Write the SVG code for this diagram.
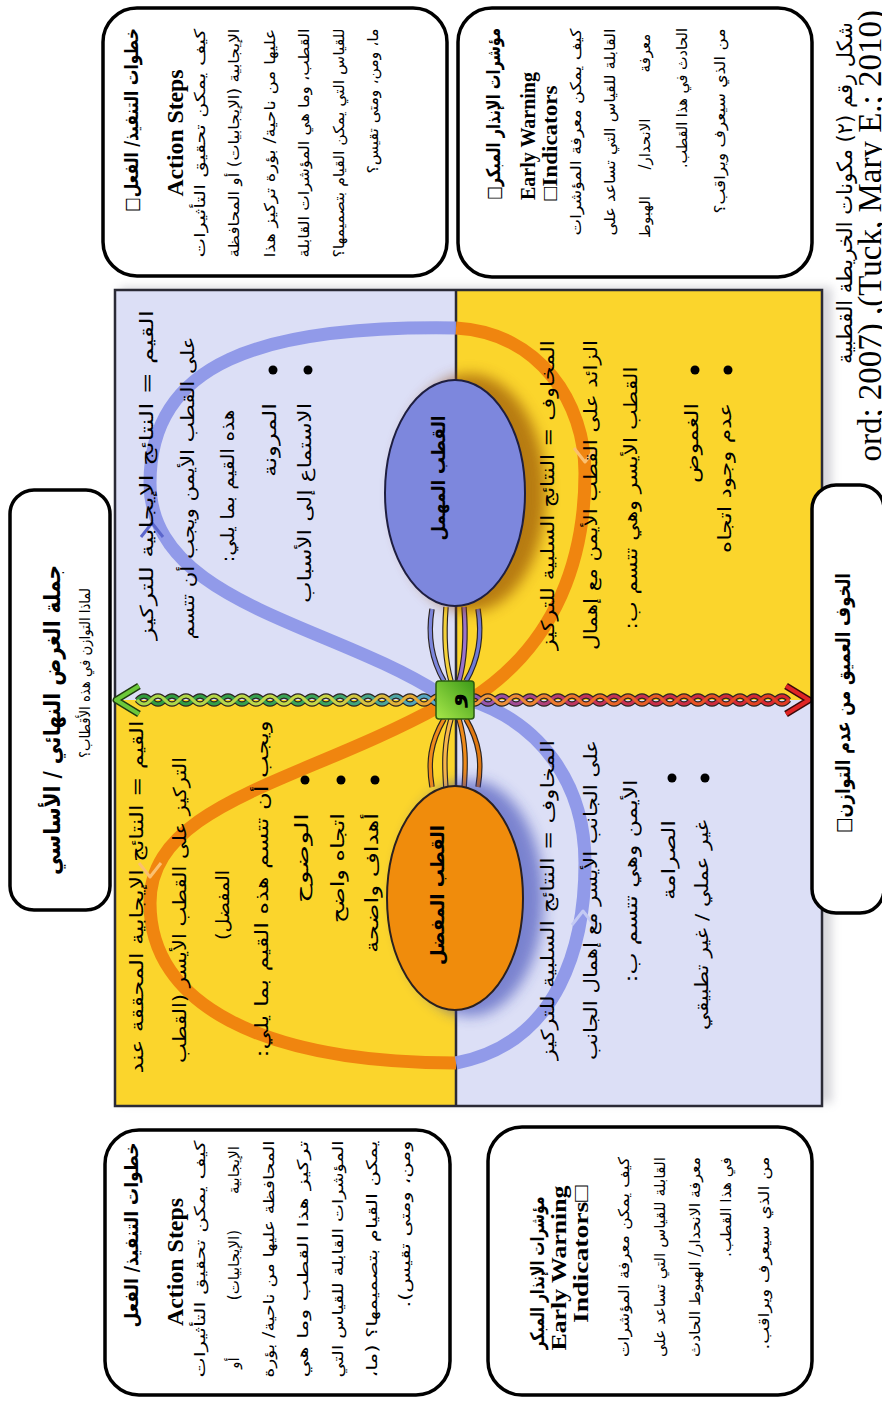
<svg xmlns="http://www.w3.org/2000/svg" width="882" height="1403" viewBox="0 0 882 1403">
<defs>
<style>
.ar{font-family:"DejaVu Sans","Noto Sans",sans-serif;fill:#000;direction:rtl}
.q{font-size:18px}
.bd{font-size:15px}
.h{font-weight:bold}
.en{font-family:"Liberation Serif","Times New Roman",serif;font-weight:bold;fill:#000}
.box{fill:#fff;stroke:#000;stroke-width:3.5}
.band{fill:none;stroke-width:13;stroke-linecap:butt}
.chev{fill:none;stroke-width:3;stroke-linejoin:round}
.dot{fill:#000}
.out{fill:none;stroke:#2b2420;stroke-width:5.5}
.str{fill:none;stroke-width:3.2}
</style>
<filter id="blur" x="-30%" y="-30%" width="160%" height="160%"><feGaussianBlur stdDeviation="7"/></filter>
<filter id="soft" x="-10%" y="-10%" width="120%" height="120%"><feGaussianBlur stdDeviation="5"/></filter>
<linearGradient id="gT1" gradientUnits="userSpaceOnUse" x1="0" y1="137" x2="0" y2="445"><stop offset="0" stop-color="#2f9a3a"/><stop offset="0.6" stop-color="#3aa45a"/><stop offset="1" stop-color="#5aa6d6"/></linearGradient>
<linearGradient id="gT2" gradientUnits="userSpaceOnUse" x1="0" y1="137" x2="0" y2="445"><stop offset="0" stop-color="#a8d84a"/><stop offset="0.6" stop-color="#c8d848"/><stop offset="1" stop-color="#f09a30"/></linearGradient>
<linearGradient id="gB1" gradientUnits="userSpaceOnUse" x1="0" y1="467" x2="0" y2="789"><stop offset="0" stop-color="#8b5cc0"/><stop offset="0.35" stop-color="#c2345a"/><stop offset="1" stop-color="#d8262a"/></linearGradient>
<linearGradient id="gB2" gradientUnits="userSpaceOnUse" x1="0" y1="467" x2="0" y2="789"><stop offset="0" stop-color="#f0a040"/><stop offset="0.4" stop-color="#ec6a28"/><stop offset="1" stop-color="#e23a22"/></linearGradient>
<linearGradient id="gSq" x1="0" y1="0" x2="1" y2="1"><stop offset="0" stop-color="#a8e84a"/><stop offset="1" stop-color="#3c9a18"/></linearGradient>
</defs>
<rect width="882" height="1403" fill="#fff"/>
<g transform="translate(0,1403) rotate(-90)">

<rect x="300" y="120" width="816" height="712" fill="#8a8a98" opacity="0.35" filter="url(#soft)"/>

<g id="quadrants">
<rect x="297" y="115" width="406" height="340" fill="#fbd52c"/>
<rect x="703" y="115" width="410" height="340" fill="#dcdff6"/>
<rect x="297" y="455" width="406" height="367" fill="#dcdff6"/>
<rect x="703" y="455" width="410" height="367" fill="#fbd52c"/>
<rect x="297" y="115" width="816" height="707" fill="none" stroke="#2a2a35" stroke-width="2.5"/>
<line x1="297" y1="456" x2="1113" y2="456" stroke="#2a2a35" stroke-width="2.5"/>
</g>

<g id="connectors">
<path class="band" stroke="#f0850f" d="M697,440 C620,300 600,150 500,150 C400,150 340,260 340,456"/>
<path class="band" stroke="#8c96e8" opacity="0.95" d="M340,456 C360,560 460,585 540,585 C620,585 680,540 703,470"/>
<path class="band" stroke="#8c96e8" opacity="0.95" d="M709,440 C780,330 800,150 920,150 C1040,150 1078,260 1075,456"/>
<path class="band" stroke="#f0850f" d="M1075,456 C1070,540 1000,585 930,585 C850,585 760,560 703,470"/>
<polyline class="chev" stroke="#fbc070" points="540,139 526,150 540,161"/>
<polyline class="chev" stroke="#5b66cc" points="866,141 880,152 866,163"/>
<polyline class="chev" stroke="#c4caf4" points="478,572 492,583 478,594"/>
<polyline class="chev" stroke="#fbc070" points="955,574 941,585 955,596"/>

<path class="out" d="M684,444 C660,430 640,428 616,432"/>
<path class="out" d="M684,451 C660,444 640,444 614,446"/>
<path class="out" d="M684,459 C660,466 640,466 614,464"/>
<path class="out" d="M684,466 C660,480 640,482 616,478"/>
<path class="str" stroke="#ee8a1a" d="M684,444 C660,430 640,428 616,432"/>
<path class="str" stroke="#f7b64a" d="M684,451 C660,444 640,444 614,446"/>
<path class="str" stroke="#ee8a1a" d="M684,459 C660,466 640,466 614,464"/>
<path class="str" stroke="#e07810" d="M684,466 C660,480 640,482 616,478"/>
<path class="out" d="M722,444 C746,430 770,428 794,432"/>
<path class="out" d="M722,451 C746,444 770,444 796,446"/>
<path class="out" d="M722,459 C746,466 770,466 796,464"/>
<path class="out" d="M722,466 C746,480 770,482 794,478"/>
<path class="str" stroke="#7c86dc" d="M722,444 C746,430 770,428 794,432"/>
<path class="str" stroke="#f4d23a" d="M722,451 C746,444 770,444 796,446"/>
<path class="str" stroke="#9a72cc" d="M722,459 C746,466 770,466 796,464"/>
<path class="str" stroke="#6f7ad6" d="M722,466 C746,480 770,482 794,478"/>

<g id="braid-up">
<path class="out" d="M703,137 q8,7 0,14 t0,14 t0,14 t0,14 t0,14 t0,14 t0,14 t0,14 t0,14 t0,14 t0,14 t0,14 t0,14 t0,14 t0,14 t0,14 t0,14 t0,14 t0,14 t0,14 t0,14 t0,14"/>
<path class="out" d="M703,137 q-8,7 0,14 t0,14 t0,14 t0,14 t0,14 t0,14 t0,14 t0,14 t0,14 t0,14 t0,14 t0,14 t0,14 t0,14 t0,14 t0,14 t0,14 t0,14 t0,14 t0,14 t0,14 t0,14"/>
<path class="str" stroke="url(#gT1)" d="M703,137 q8,7 0,14 t0,14 t0,14 t0,14 t0,14 t0,14 t0,14 t0,14 t0,14 t0,14 t0,14 t0,14 t0,14 t0,14 t0,14 t0,14 t0,14 t0,14 t0,14 t0,14 t0,14 t0,14"/>
<path class="str" stroke="url(#gT2)" d="M703,137 q-8,7 0,14 t0,14 t0,14 t0,14 t0,14 t0,14 t0,14 t0,14 t0,14 t0,14 t0,14 t0,14 t0,14 t0,14 t0,14 t0,14 t0,14 t0,14 t0,14 t0,14 t0,14 t0,14"/>
<path d="M689,139 L703,116 L717,139" fill="none" stroke="#1f3a10" stroke-width="7" stroke-linejoin="round"/>
<path d="M689,139 L703,116 L717,139" fill="none" stroke="#6cc83a" stroke-width="4" stroke-linejoin="round"/>
</g>
<g id="braid-down">
<path class="out" d="M703,467 q8,7 0,14 t0,14 t0,14 t0,14 t0,14 t0,14 t0,14 t0,14 t0,14 t0,14 t0,14 t0,14 t0,14 t0,14 t0,14 t0,14 t0,14 t0,14 t0,14 t0,14 t0,14 t0,14 t0,14"/>
<path class="out" d="M703,467 q-8,7 0,14 t0,14 t0,14 t0,14 t0,14 t0,14 t0,14 t0,14 t0,14 t0,14 t0,14 t0,14 t0,14 t0,14 t0,14 t0,14 t0,14 t0,14 t0,14 t0,14 t0,14 t0,14 t0,14"/>
<path class="str" stroke="url(#gB1)" d="M703,467 q8,7 0,14 t0,14 t0,14 t0,14 t0,14 t0,14 t0,14 t0,14 t0,14 t0,14 t0,14 t0,14 t0,14 t0,14 t0,14 t0,14 t0,14 t0,14 t0,14 t0,14 t0,14 t0,14 t0,14"/>
<path class="str" stroke="url(#gB2)" d="M703,467 q-8,7 0,14 t0,14 t0,14 t0,14 t0,14 t0,14 t0,14 t0,14 t0,14 t0,14 t0,14 t0,14 t0,14 t0,14 t0,14 t0,14 t0,14 t0,14 t0,14 t0,14 t0,14 t0,14 t0,14"/>
<path d="M689,786 L703,809 L717,786" fill="none" stroke="#3a0a0a" stroke-width="7" stroke-linejoin="round"/>
<path d="M689,786 L703,809 L717,786" fill="none" stroke="#e02424" stroke-width="4" stroke-linejoin="round"/>
</g>
</g>

<g id="pole-preferred">
<ellipse cx="505" cy="470" rx="118" ry="74" fill="#2c38b0" opacity="0.55" filter="url(#blur)"/>
<ellipse cx="505" cy="455" rx="112" ry="68" fill="#f08c0c" stroke="#2a2020" stroke-width="2"/>
<text class="ar h" font-size="19" x="508" y="444" text-anchor="middle" textLength="140" lengthAdjust="spacingAndGlyphs">القطب المفضل</text>
</g>
<g id="pole-neglected">
<ellipse cx="910" cy="470" rx="119" ry="76" fill="#8a4000" opacity="0.6" filter="url(#blur)"/>
<ellipse cx="910" cy="455" rx="113" ry="70" fill="#7d87dd" stroke="#1e1e40" stroke-width="2"/>
<text class="ar h" font-size="19" x="925" y="445" text-anchor="middle" textLength="125" lengthAdjust="spacingAndGlyphs">القطب المهمل</text>
</g>
<g id="and-node">
<rect x="684" y="436" width="38" height="38" rx="3" fill="url(#gSq)" stroke="#2a5a10" stroke-width="1.5"/>
<text class="ar h" font-size="22" x="703" y="462" text-anchor="middle" fill="#1a2a0a">و</text>
</g>

<g id="upper-left">
<text class="ar q" x="506" y="143" text-anchor="middle" textLength="353" lengthAdjust="spacingAndGlyphs">القيم = النتائج الإيجابية المحققة عند</text>
<text class="ar q" x="493" y="186" text-anchor="middle" textLength="306" lengthAdjust="spacingAndGlyphs">التركيز على القطب الأيسر (القطب</text>
<text class="ar q" x="498" y="229" text-anchor="middle" textLength="70" lengthAdjust="spacingAndGlyphs">المفضل)</text>
<text class="ar q" x="514" y="268" text-anchor="middle" textLength="337" lengthAdjust="spacingAndGlyphs">ويجب أن تتسم هذه القيم بما يلي:</text>
<circle class="dot" cx="623" cy="305" r="4.5"/><circle class="dot" cx="623" cy="341" r="4.5"/><circle class="dot" cx="623" cy="375" r="4.5"/>
<text class="ar q" x="545" y="308" text-anchor="middle" textLength="90" lengthAdjust="spacingAndGlyphs">الوضوح</text>
<text class="ar q" x="535" y="344" text-anchor="middle" textLength="110" lengthAdjust="spacingAndGlyphs">اتجاه واضح</text>
<text class="ar q" x="520" y="378" text-anchor="middle" textLength="140" lengthAdjust="spacingAndGlyphs">أهداف واضحة</text>
</g>
<g id="upper-right">
<text class="ar q" x="928" y="153" text-anchor="middle" textLength="330" lengthAdjust="spacingAndGlyphs">القيم = النتائج الإيجابية للتركيز</text>
<text class="ar q" x="915" y="194" text-anchor="middle" textLength="303" lengthAdjust="spacingAndGlyphs">على القطب الأيمن ويجب أن تتسم</text>
<text class="ar q" x="917" y="234" text-anchor="middle" textLength="153" lengthAdjust="spacingAndGlyphs">هذه القيم بما يلي:</text>
<circle class="dot" cx="1033" cy="273" r="4.5"/><circle class="dot" cx="1033" cy="308" r="4.5"/>
<text class="ar q" x="963" y="276" text-anchor="middle" textLength="74" lengthAdjust="spacingAndGlyphs">المرونة</text>
<text class="ar q" x="900" y="311" text-anchor="middle" textLength="200" lengthAdjust="spacingAndGlyphs">الاستماع إلى الأسباب</text>
</g>
<g id="lower-right">
<text class="ar q" x="908" y="554" text-anchor="middle" textLength="310" lengthAdjust="spacingAndGlyphs">المخاوف = النتائج السلبية للتركيز</text>
<text class="ar q" x="908" y="597" text-anchor="middle" textLength="310" lengthAdjust="spacingAndGlyphs">الزائد على القطب الأيمن مع إهمال</text>
<text class="ar q" x="905" y="637" text-anchor="middle" textLength="263" lengthAdjust="spacingAndGlyphs">القطب الأيسر وهي تتسم ب:</text>
<circle class="dot" cx="1033" cy="695" r="4.5"/><circle class="dot" cx="1033" cy="728" r="4.5"/>
<text class="ar q" x="960" y="698" text-anchor="middle" textLength="80" lengthAdjust="spacingAndGlyphs">الغموض</text>
<text class="ar q" x="925" y="731" text-anchor="middle" textLength="150" lengthAdjust="spacingAndGlyphs">عدم وجود اتجاه</text>
</g>
<g id="lower-left">
<text class="ar q" x="503" y="554" text-anchor="middle" textLength="320" lengthAdjust="spacingAndGlyphs">المخاوف = النتائج السلبية للتركيز</text>
<text class="ar q" x="503" y="597" text-anchor="middle" textLength="320" lengthAdjust="spacingAndGlyphs">على الجانب الأيسر مع إهمال الجانب</text>
<text class="ar q" x="522" y="637" text-anchor="middle" textLength="203" lengthAdjust="spacingAndGlyphs">الأيمن وهي تتسم ب:</text>
<circle class="dot" cx="625" cy="672" r="4.5"/><circle class="dot" cx="625" cy="705" r="4.5"/>
<text class="ar q" x="543" y="675" text-anchor="middle" textLength="80" lengthAdjust="spacingAndGlyphs">الصرامة</text>
<text class="ar q" x="478" y="708" text-anchor="middle" textLength="210" lengthAdjust="spacingAndGlyphs">غير عملي / غير تطبيقي</text>
</g>

<g id="purpose">
<rect class="box" x="493" y="10" width="420" height="100" rx="24"/>
<text class="ar h" font-size="23" x="683" y="60" text-anchor="middle" textLength="310" lengthAdjust="spacingAndGlyphs">جملة الغرض النهائي / الأساسي</text>
<text class="ar" font-size="15" x="730" y="90" text-anchor="middle" textLength="170" lengthAdjust="spacingAndGlyphs">لماذا التوازن في هذه الأقطاب؟</text>
</g>

<g id="action-right">
<rect class="box" x="1127" y="103" width="268" height="344" rx="34"/>
<text class="ar h" font-size="19" x="1283" y="138" text-anchor="middle" textLength="184" lengthAdjust="spacingAndGlyphs">خطوات التنفيذ/ الفعل□</text>
<text class="en" font-size="24" x="1270" y="183" text-anchor="middle" textLength="127" lengthAdjust="spacingAndGlyphs">Action Steps</text>
<text class="ar bd" x="1260" y="205" text-anchor="middle" textLength="229" lengthAdjust="spacingAndGlyphs">كيف يمكن تحقيق التأثيرات</text>
<text class="ar bd" x="1260" y="239" text-anchor="middle" textLength="229" lengthAdjust="spacingAndGlyphs">الإيجابية (الإيجابيات) أو المحافظة</text>
<text class="ar bd" x="1260" y="275" text-anchor="middle" textLength="229" lengthAdjust="spacingAndGlyphs">عليها من ناحية/ بؤرة تركيز هذا</text>
<text class="ar bd" x="1260" y="309" text-anchor="middle" textLength="229" lengthAdjust="spacingAndGlyphs">القطب، وما هي المؤشرات القابلة</text>
<text class="ar bd" x="1260" y="344" text-anchor="middle" textLength="229" lengthAdjust="spacingAndGlyphs">للقياس التي يمكن القيام بتصميمها؟</text>
<text class="ar bd" x="1302" y="378" text-anchor="middle" textLength="145" lengthAdjust="spacingAndGlyphs">ما، ومن، ومتى تقيس؟</text>
</g>

<g id="warning-right">
<rect class="box" x="1126" y="458" width="269" height="354" rx="34"/>
<text class="ar h" font-size="19" x="1289" y="500" text-anchor="middle" textLength="172" lengthAdjust="spacingAndGlyphs">مؤشرات الإنذار المبكر□</text>
<text class="en" font-size="22" x="1267" y="535" text-anchor="middle" textLength="128" lengthAdjust="spacingAndGlyphs">Early Warning</text>
<text class="en" font-size="22" x="1260" y="557" text-anchor="middle" textLength="115" lengthAdjust="spacingAndGlyphs">□Indicators</text>
<text class="ar bd" x="1271" y="581" text-anchor="middle" textLength="207" lengthAdjust="spacingAndGlyphs">كيف يمكن معرفة المؤشرات</text>
<text class="ar bd" x="1271" y="615" text-anchor="middle" textLength="207" lengthAdjust="spacingAndGlyphs">القابلة للقياس التي تساعد على</text>
<text class="ar bd" x="1350" y="650" text-anchor="middle">معرفة</text>
<text class="ar bd" x="1259" y="650" text-anchor="middle">الانحدار/</text>
<text class="ar bd" x="1186" y="650" text-anchor="middle">الهبوط</text>
<text class="ar bd" x="1305" y="687" text-anchor="middle" textLength="140" lengthAdjust="spacingAndGlyphs">الحادث في هذا القطب.</text>
<text class="ar bd" x="1282" y="725" text-anchor="middle" textLength="185" lengthAdjust="spacingAndGlyphs">من الذي سيعرف ويراقب؟</text>
</g>

<g id="action-left">
<rect class="box" x="8" y="105" width="265" height="345" rx="34"/>
<text class="ar h" font-size="19" x="168" y="138" text-anchor="middle" textLength="185" lengthAdjust="spacingAndGlyphs">خطوات التنفيذ/ الفعل</text>
<text class="en" font-size="24" x="141" y="183" text-anchor="middle" textLength="128" lengthAdjust="spacingAndGlyphs">Action Steps</text>
<text class="ar bd" x="144" y="205" text-anchor="middle" textLength="237" lengthAdjust="spacingAndGlyphs">كيف يمكن تحقيق التأثيرات</text>
<text class="ar bd" x="233" y="239" text-anchor="middle">الإيجابية</text>
<text class="ar bd" x="138" y="239" text-anchor="middle">(الإيجابيات)</text>
<text class="ar bd" x="40" y="239" text-anchor="middle">أو</text>
<text class="ar bd" x="144" y="274" text-anchor="middle" textLength="237" lengthAdjust="spacingAndGlyphs">المحافظة عليها من ناحية/ بؤرة</text>
<text class="ar bd" x="144" y="308" text-anchor="middle" textLength="237" lengthAdjust="spacingAndGlyphs">تركيز هذا القطب وما هي</text>
<text class="ar bd" x="144" y="343" text-anchor="middle" textLength="237" lengthAdjust="spacingAndGlyphs">المؤشرات القابلة للقياس التي</text>
<text class="ar bd" x="144" y="377" text-anchor="middle" textLength="237" lengthAdjust="spacingAndGlyphs">يمكن القيام بتصميمها؟ (ما،</text>
<text class="ar bd" x="179" y="410" text-anchor="middle" textLength="167" lengthAdjust="spacingAndGlyphs">ومن، ومتى تقيس).</text>
</g>

<g id="warning-left">
<rect class="box" x="8" y="488" width="268" height="324" rx="34"/>
<text class="ar h" font-size="19" x="130" y="544" text-anchor="middle" textLength="153" lengthAdjust="spacingAndGlyphs">مؤشرات الإنذار المبكر</text>
<text class="en" font-size="22" x="135" y="566" text-anchor="middle" textLength="165" lengthAdjust="spacingAndGlyphs">Early Warning</text>
<text class="en" font-size="22" x="149" y="588" text-anchor="middle" textLength="138" lengthAdjust="spacingAndGlyphs">Indicators□</text>
<text class="ar bd" x="146" y="629" text-anchor="middle" textLength="200" lengthAdjust="spacingAndGlyphs">كيف يمكن معرفة المؤشرات</text>
<text class="ar bd" x="146" y="665" text-anchor="middle" textLength="200" lengthAdjust="spacingAndGlyphs">القابلة للقياس التي تساعد على</text>
<text class="ar bd" x="146" y="700" text-anchor="middle" textLength="200" lengthAdjust="spacingAndGlyphs">معرفة الانحدار/ الهبوط الحادث</text>
<text class="ar bd" x="196" y="731" text-anchor="middle" textLength="100" lengthAdjust="spacingAndGlyphs">في هذا القطب.</text>
<text class="ar bd" x="150" y="769" text-anchor="middle" textLength="193" lengthAdjust="spacingAndGlyphs">من الذي سيعرف ويراقب.</text>
</g>

<g id="caption">
<text class="ar" font-size="21" x="1210" y="852" text-anchor="middle">شكل رقم (٢) مكونات الخريطة القطبية</text>
<text font-family="Liberation Serif, serif" font-size="33" x="1393" y="881" text-anchor="end" fill="#000">ord; 2007) ,(Tuck, Mary E.; 2010)</text>
</g>

<g id="deep-fear">
<rect class="box" x="490" y="812" width="428" height="72" rx="24"/>
<text class="ar h" font-size="20" x="700" y="850" text-anchor="middle" textLength="260" lengthAdjust="spacingAndGlyphs">الخوف العميق من عدم التوازن□</text>
</g>

</g>
</svg>
